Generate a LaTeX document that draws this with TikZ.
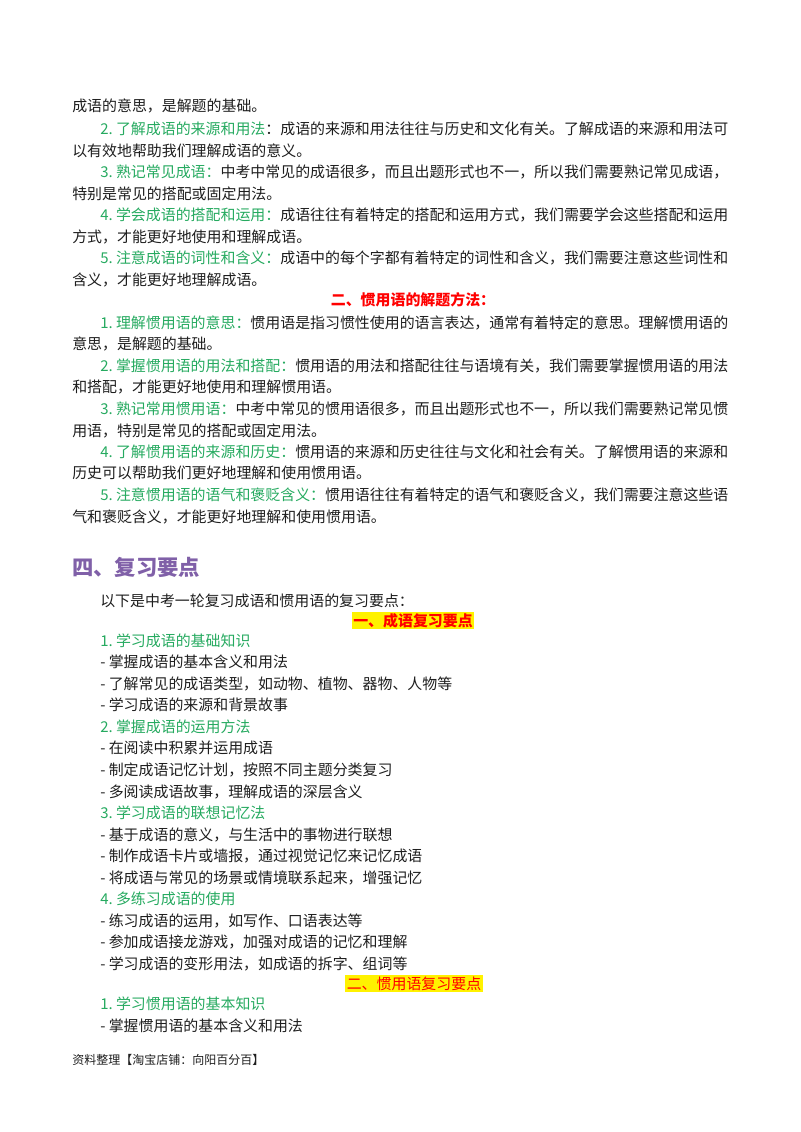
\documentclass[tikz,border=0pt]{standalone}
\usepackage{fontspec}
\setmainfont{Noto Sans CJK SC}
\definecolor{kgreen}{RGB}{38,170,96}
\definecolor{kpurple}{RGB}{128,96,168}
\definecolor{ktext}{RGB}{30,30,30}
\tikzset{
  ln/.style={anchor=base west,inner sep=0pt,font=\fontsize{11.2}{13}\selectfont,text=ktext},
  hl/.style={anchor=base,inner sep=1pt,fill=yellow,text=red,font=\fontsize{11.2}{13}\selectfont\bfseries},
}
\newcommand{\gr}[1]{\textcolor{kgreen}{#1}}
\begin{document}
\begin{tikzpicture}[x=0.75pt,y=-0.75pt]
\useasboundingbox[fill=white] (0,0) rectangle (800,1132);

\node[ln] (a1) at (72,111) {成语的意思，是解题的基础。};
\node[ln] (a2) at (100,134) {\gr{2.\ 了解成语的来源和用法}：成语的来源和用法往往与历史和文化有关。了解成语的来源和用法可};
\node[ln] (a3) at (72,156) {以有效地帮助我们理解成语的意义。};
\node[ln] (a4) at (100,177) {\gr{3.\ 熟记常见成语：}中考中常见的成语很多，而且出题形式也不一，所以我们需要熟记常见成语，};
\node[ln] (a5) at (72,199) {特别是常见的搭配或固定用法。};
\node[ln] (a6) at (100,220) {\gr{4.\ 学会成语的搭配和运用：}成语往往有着特定的搭配和运用方式，我们需要学会这些搭配和运用};
\node[ln] (a7) at (72,242) {方式，才能更好地使用和理解成语。};
\node[ln] (a8) at (100,263) {\gr{5.\ 注意成语的词性和含义：}成语中的每个字都有着特定的词性和含义，我们需要注意这些词性和};
\node[ln] (a9) at (72,285) {含义，才能更好地理解成语。};

\node[anchor=base,inner sep=0pt,text=red,font=\fontsize{11.2}{13}\selectfont\bfseries] (h1) at (413,305) {二、惯用语的解题方法：};

\node[ln] (b1) at (100,328) {\gr{1.\ 理解惯用语的意思：}惯用语是指习惯性使用的语言表达，通常有着特定的意思。理解惯用语的};
\node[ln] (b2) at (72,349) {意思，是解题的基础。};
\node[ln] (b3) at (100,371) {\gr{2.\ 掌握惯用语的用法和搭配：}惯用语的用法和搭配往往与语境有关，我们需要掌握惯用语的用法};
\node[ln] (b4) at (72,392) {和搭配，才能更好地使用和理解惯用语。};
\node[ln] (b5) at (100,414) {\gr{3.\ 熟记常用惯用语：}中考中常见的惯用语很多，而且出题形式也不一，所以我们需要熟记常见惯};
\node[ln] (b6) at (72,436) {用语，特别是常见的搭配或固定用法。};
\node[ln] (b7) at (100,457) {\gr{4.\ 了解惯用语的来源和历史：}惯用语的来源和历史往往与文化和社会有关。了解惯用语的来源和};
\node[ln] (b8) at (72,478) {历史可以帮助我们更好地理解和使用惯用语。};
\node[ln] (b9) at (100,500) {\gr{5.\ 注意惯用语的语气和褒贬含义：}惯用语往往有着特定的语气和褒贬含义，我们需要注意这些语};
\node[ln] (b10) at (72,522) {气和褒贬含义，才能更好地理解和使用惯用语。};

\node[anchor=base west,inner sep=0pt,text=kpurple,font=\fontsize{16}{19}\selectfont\bfseries] (t4) at (72,575) {四、复习要点};

\node[ln] (c0) at (100,606) {以下是中考一轮复习成语和惯用语的复习要点：};
\node[hl] (h2) at (413,626) {一、成语复习要点};
\node[ln] (c1) at (100,646) {\gr{1.\ 学习成语的基础知识}};
\node[ln] (c2) at (100,667) {-\ 掌握成语的基本含义和用法};
\node[ln] (c3) at (100,689) {-\ 了解常见的成语类型，如动物、植物、器物、人物等};
\node[ln] (c4) at (100,710) {-\ 学习成语的来源和背景故事};
\node[ln] (c5) at (100,732) {\gr{2.\ 掌握成语的运用方法}};
\node[ln] (c6) at (100,753) {-\ 在阅读中积累并运用成语};
\node[ln] (c7) at (100,775) {-\ 制定成语记忆计划，按照不同主题分类复习};
\node[ln] (c8) at (100,797) {-\ 多阅读成语故事，理解成语的深层含义};
\node[ln] (c9) at (100,818) {\gr{3.\ 学习成语的联想记忆法}};
\node[ln] (c10) at (100,840) {-\ 基于成语的意义，与生活中的事物进行联想};
\node[ln] (c11) at (100,861) {-\ 制作成语卡片或墙报，通过视觉记忆来记忆成语};
\node[ln] (c12) at (100,883) {-\ 将成语与常见的场景或情境联系起来，增强记忆};
\node[ln] (c13) at (100,904) {\gr{4.\ 多练习成语的使用}};
\node[ln] (c14) at (100,926) {-\ 练习成语的运用，如写作、口语表达等};
\node[ln] (c15) at (100,947) {-\ 参加成语接龙游戏，加强对成语的记忆和理解};
\node[ln] (c16) at (100,969) {-\ 学习成语的变形用法，如成语的拆字、组词等};
\node[hl,font=\fontsize{11.2}{13}\selectfont] (h3) at (414,989) {二、惯用语复习要点};
\node[ln] (d1) at (100,1009) {\gr{1.\ 学习惯用语的基本知识}};
\node[ln] (d2) at (100,1031) {-\ 掌握惯用语的基本含义和用法};

\node[anchor=base west,inner sep=0pt,text=ktext,font=\fontsize{9}{11}\selectfont] (ft) at (72,1064) {资料整理【淘宝店铺：向阳百分百】};
\end{tikzpicture}
\end{document}
